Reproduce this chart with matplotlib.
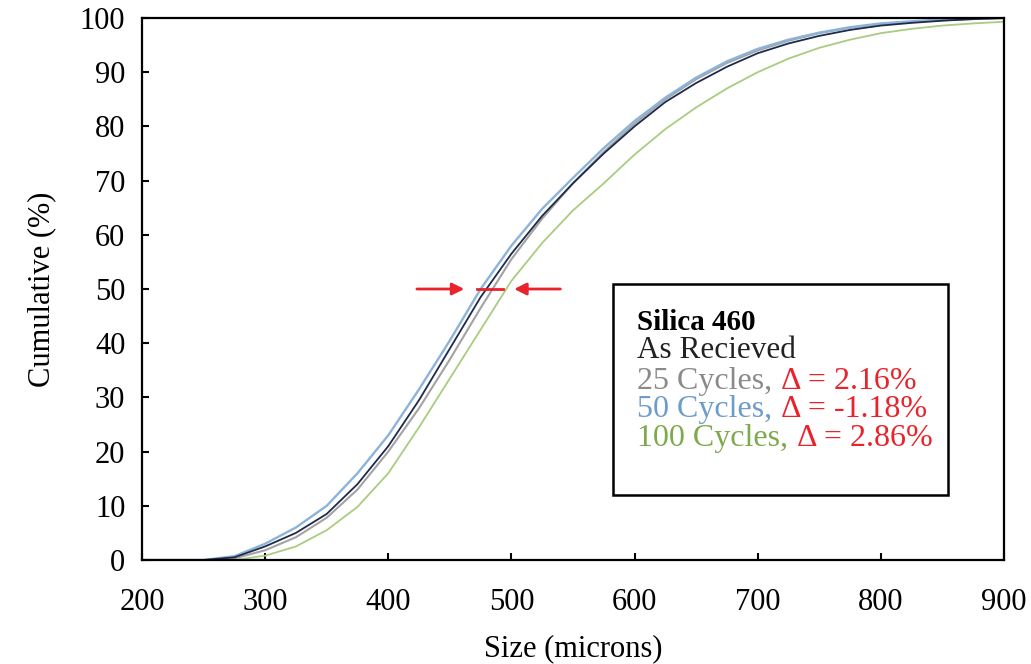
import matplotlib
matplotlib.use("Agg")
import matplotlib.pyplot as plt
from matplotlib.patches import Rectangle

plt.rcParams['font.family'] = ['Liberation Serif', 'DejaVu Serif']

size = [200, 225, 250, 275, 300, 325, 350, 375, 400, 425, 450, 475, 500, 525, 550,
        575, 600, 625, 650, 675, 700, 725, 750, 775, 800, 825, 850, 875, 900]

as_received = [0, 0, 0, 0.5, 2.5, 5, 8.5, 14, 21, 29.5, 39, 48.5, 56.5, 63.5, 69.5,
               75, 80, 84.5, 88, 91, 93.5, 95.3, 96.7, 97.8, 98.6, 99.1, 99.5, 99.8, 100]
cycles_25 = [0, 0, 0, 0.3, 1.8, 4.2, 7.8, 13, 20, 28, 37, 46.5, 55.5, 63, 69.5,
             75.3, 80.5, 85, 88.7, 91.7, 94, 95.8, 97.2, 98.2, 98.9, 99.3, 99.6, 99.8, 100]
cycles_50 = [0, 0, 0, 0.7, 3, 6, 10, 16, 23, 31.5, 40.5, 50, 58, 64.8, 70.5,
             76, 81, 85.3, 89, 92, 94.3, 96, 97.3, 98.3, 99, 99.4, 99.7, 99.9, 100]
cycles_100 = [0, 0, 0, 0, 0.8, 2.5, 5.5, 9.8, 16, 24.5, 33.5, 42.5, 51.5, 58.5, 64.5,
              69.5, 74.8, 79.5, 83.5, 87, 90, 92.5, 94.5, 96, 97.2, 98, 98.6, 99, 99.3]

legend_title = "Silica 460"
legend_lines = ["As Recieved", "25 Cycles, ", "50 Cycles, ", "100 Cycles,  "]
deltas = ["", "Δ = 2.16%", "Δ = -1.18%", "Δ = 2.86%"]

c_dark = "#1e2a48"
c_gray = "#a3a3a3"
c_blue = "#8cb3da"
c_green = "#a9cc80"
t_gray = "#8a8a8a"
t_blue = "#6d9ccb"
t_green = "#7daa4c"
red = "#e8232b"

fig = plt.figure(figsize=(10.31, 6.64), dpi=100)
ax = fig.add_axes([0.1377, 0.1566, 0.8361, 0.8163])

ax.plot(size, cycles_100, color=c_green, lw=1.3)
ax.plot(size, cycles_25, color=c_gray, lw=1.5)
ax.plot(size, cycles_50, color=c_blue, lw=1.7)
ax.plot(size, as_received, color=c_dark, lw=1.3)

ax.set_xlim(200, 900)
ax.set_ylim(0, 100)
ax.set_xticks(range(200, 901, 100))
ax.set_yticks(range(0, 101, 10))
ax.tick_params(direction='in', length=5, width=1.5, labelsize=22)
ax.tick_params(axis='x', pad=20)
ax.tick_params(axis='y', pad=12)
for s in ax.spines.values():
    s.set_linewidth(1.6)
ax.set_xlabel("Size (microns)", fontsize=22, va='center', ha='center')
ax.set_ylabel("Cumulative (%)", fontsize=22, va='center', ha='center')
ax.xaxis.set_label_coords(0.5, -0.164)
ax.yaxis.set_label_coords(-0.116, 0.5)

# arrows at 50%
ax.annotate("", xy=(464, 50), xytext=(421, 50),
            arrowprops=dict(arrowstyle="-|>", color=red, lw=2, mutation_scale=18))
ax.annotate("", xy=(500, 50), xytext=(542, 50),
            arrowprops=dict(arrowstyle="-|>", color=red, lw=2, mutation_scale=18))
ax.plot([472, 493], [50, 50], color=red, lw=2)

# legend box
box = Rectangle((0.546, 0.12), 0.389, 0.389, transform=ax.transAxes,
                fill=True, facecolor='white', edgecolor='black', lw=1.8, zorder=5)
ax.add_patch(box)
x0 = 0.574
ys = [0.439, 0.386, 0.330, 0.277, 0.225]
fs = 23
ax.text(x0, ys[0], legend_title, transform=ax.transAxes, fontsize=21,
        fontweight='bold', va='center', zorder=6)
ax.text(x0, ys[1], legend_lines[0], transform=ax.transAxes, fontsize=fs - 0.5,
        color='#222222', va='center', zorder=6)
cols = [t_gray, t_blue, t_green]
dx = [0.741, 0.741, 0.760]
for i in range(3):
    ax.text(x0, ys[i + 2], legend_lines[i + 1], transform=ax.transAxes, fontsize=fs,
            color=cols[i], va='center', zorder=6)
    ax.text(dx[i], ys[i + 2], deltas[i + 1], transform=ax.transAxes, fontsize=fs,
            color=red, va='center', zorder=6)

fig.savefig("out.png", dpi=100)
